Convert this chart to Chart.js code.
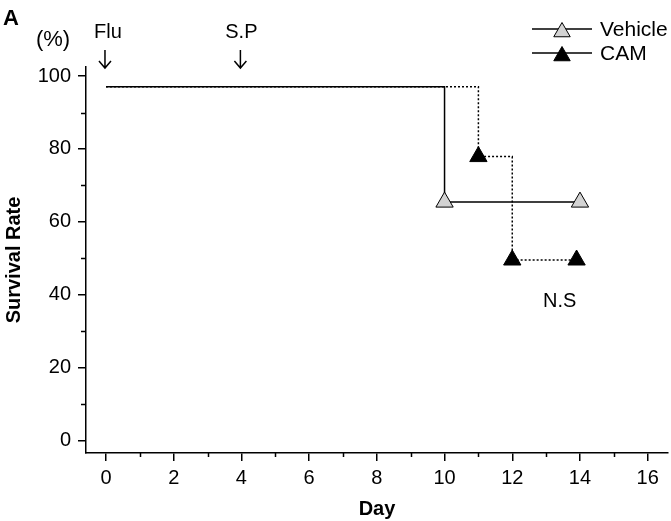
<!DOCTYPE html>
<html>
<head>
<meta charset="utf-8">
<script src="https://cdn.jsdelivr.net/npm/chart.js@4/dist/chart.umd.min.js"></script>
<style>
body{margin:0;background:#fff;}
#wrap{width:671px;height:521px;}
</style>
</head>
<body>
<div id="wrap"><canvas id="survivalChart" width="671" height="521"></canvas></div>
<script>
// survival data
var vehicleDays = [0, 10, 14];
var vehicleRate = [97.1, 65.4, 65.4];
var camDays = [0, 11, 12, 13.9];
var camRate = [97.1, 77.9, 49.5, 49.5];

var dayTicks = [0, 2, 4, 6, 8, 10, 12, 14, 16];
var dayMinor = [1, 3, 5, 7, 9, 11, 13, 15];
var rateTicks = [0, 20, 40, 60, 80, 100];
var rateMinor = [10, 30, 50, 70, 90];

var FONT = "'Liberation Sans', Arial, sans-serif";

function toPoints(xs, ys){
	var pts = [];
	for (var i = 0; i < xs.length; i++){
		pts.push({x: xs[i], y: ys[i]});
	}
	return pts;
}

function triangle(ctx, x, y, r, fill){
	ctx.beginPath();
	ctx.moveTo(x, y - r);
	ctx.lineTo(x + r * 0.866, y + r / 2);
	ctx.lineTo(x - r * 0.866, y + r / 2);
	ctx.closePath();
	ctx.fillStyle = fill;
	ctx.fill();
	ctx.lineWidth = 1;
	ctx.strokeStyle = '#000';
	ctx.stroke();
}

function arrowDown(ctx, x, y0, y1){
	ctx.beginPath();
	ctx.moveTo(x, y0);
	ctx.lineTo(x, y1);
	ctx.moveTo(x - 6, y1 - 7);
	ctx.lineTo(x, y1);
	ctx.lineTo(x + 6, y1 - 7);
	ctx.lineWidth = 1.5;
	ctx.strokeStyle = '#000';
	ctx.stroke();
}

// short unlabeled ticks between the labeled ones
var minorTicks = {
	id: 'minorTicks',
	afterDraw: function(chart){
		var ctx = chart.ctx;
		var xs = chart.scales.x, ys = chart.scales.y;
		ctx.save();
		ctx.strokeStyle = '#000';
		ctx.lineWidth = 1.5;
		ctx.beginPath();
		dayMinor.forEach(function(d){
			var px = Math.round(xs.getPixelForValue(d)) + 0.5;
			ctx.moveTo(px, ys.bottom);
			ctx.lineTo(px, ys.bottom + 4);
		});
		rateMinor.forEach(function(v){
			var py = Math.round(ys.getPixelForValue(v)) + 0.5;
			ctx.moveTo(xs.left, py);
			ctx.lineTo(xs.left - 5, py);
		});
		ctx.stroke();
		ctx.restore();
	}
};

var figLabels = {
	id: 'figLabels',
	afterDraw: function(chart){
		var ctx = chart.ctx;
		var xs = chart.scales.x, ys = chart.scales.y;
		ctx.save();
		ctx.fillStyle = '#000';
		ctx.textBaseline = 'alphabetic';

		ctx.font = 'bold 22px ' + FONT;
		ctx.textAlign = 'left';
		ctx.fillText('A', 3, 25);

		ctx.font = '22px ' + FONT;
		ctx.textAlign = 'center';
		ctx.fillText('(%)', 53, 46);
		ctx.font = '20px ' + FONT;
		ctx.fillText('Flu', xs.getPixelForValue(0) + 2, 38);
		ctx.fillText('S.P', xs.getPixelForValue(4), 38);
		arrowDown(ctx, xs.getPixelForValue(0) - 1, 50, 68);
		arrowDown(ctx, xs.getPixelForValue(4) - 1, 50, 68);

		ctx.fillText('N.S', xs.getPixelForValue(13.4), ys.getPixelForValue(36.5));

		// legend
		var rows = [['Vehicle', '#d3d3d3', 29], ['CAM', '#000', 53]];
		for (var i = 0; i < rows.length; i++){
			var yy = rows[i][2];
			ctx.beginPath();
			ctx.moveTo(532, yy);
			ctx.lineTo(592, yy);
			ctx.lineWidth = 1.5;
			ctx.strokeStyle = '#000';
			ctx.stroke();
			triangle(ctx, 562, yy + 3, 9.5, rows[i][1]);
			ctx.fillStyle = '#000';
			ctx.font = '21px ' + FONT;
			ctx.textAlign = 'left';
			ctx.textBaseline = 'middle';
			ctx.fillText(rows[i][0], 600, yy + 1);
		}
		ctx.restore();
	}
};

var canvas = document.getElementById('survivalChart');

var survivalChart = new Chart(canvas, {
	type: 'line',
	data: {
		datasets: [{
			label: 'Vehicle',
			data: toPoints(vehicleDays, vehicleRate),
			stepped: true,
			borderColor: '#000',
			borderWidth: 1.5,
			pointStyle: 'triangle',
			pointRadius: [0, 10, 10],
			pointBackgroundColor: '#d3d3d3',
			pointBorderColor: '#000',
			pointBorderWidth: 1
		}, {
			label: 'CAM',
			data: toPoints(camDays, camRate),
			stepped: true,
			borderColor: '#000',
			borderWidth: 1.5,
			borderDash: [2, 2],
			pointStyle: 'triangle',
			pointRadius: [0, 10, 10, 10],
			pointBackgroundColor: '#000',
			pointBorderColor: '#000',
			pointBorderWidth: 1
		}]
	},
	options: {
		responsive: false,
		animation: false,
		devicePixelRatio: 1,
		clip: false,
		layout: {autoPadding: false, padding: {top: 67, right: 3, left: 0, bottom: 0}},
		plugins: {
			legend: {display: false},
			tooltip: {enabled: false}
		},
		scales: {
			x: {
				type: 'linear',
				min: -0.59,
				max: 16.6,
				afterBuildTicks: function(scale){
					scale.ticks = dayTicks.map(function(v){ return {value: v}; });
				},
				afterFit: function(scale){
					scale.height = 68;
					scale.paddingLeft = 0;
					scale.paddingRight = 0;
				},
				ticks: {
					autoSkip: false,
					maxRotation: 0,
					padding: 5,
					color: '#000',
					font: {family: FONT, size: 20}
				},
				grid: {drawOnChartArea: false, drawTicks: true, tickLength: 8, color: '#000', lineWidth: 1.5},
				border: {display: true, color: '#000', width: 1.5},
				title: {display: true, text: 'Day', color: '#000', padding: {top: 0, bottom: 0}, font: {family: FONT, size: 20, weight: 'bold'}}
			},
			y: {
				min: -3.5,
				max: 102.5,
				afterBuildTicks: function(scale){
					scale.ticks = rateTicks.map(function(v){ return {value: v}; });
				},
				afterFit: function(scale){ scale.width = 86; },
				ticks: {
					autoSkip: false,
					padding: 7,
					color: '#000',
					font: {family: FONT, size: 20}
				},
				grid: {drawOnChartArea: false, drawTicks: true, tickLength: 8, color: '#000', lineWidth: 1.5},
				border: {display: true, color: '#000', width: 1.5},
				title: {display: true, text: 'Survival Rate', color: '#000', padding: {top: 2, bottom: 0}, font: {family: FONT, size: 20, weight: 'bold'}}
			}
		}
	},
	plugins: [minorTicks, figLabels]
});
</script>
</body>
</html>
